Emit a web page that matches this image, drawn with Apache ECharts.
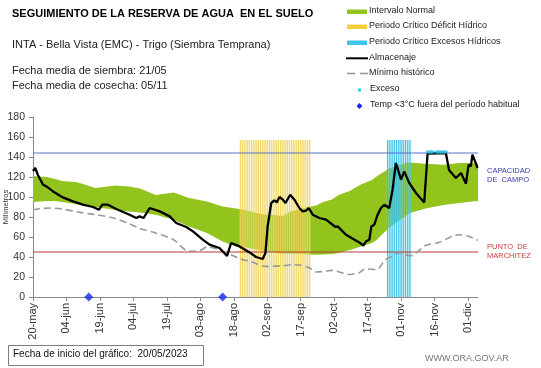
<!DOCTYPE html>
<html><head><meta charset="utf-8">
<script src="https://cdn.jsdelivr.net/npm/echarts/dist/echarts.min.js"></script>
<style>html,body{margin:0;padding:0;background:#fff}#c{width:541px;height:368px}</style>
</head><body><div id="c"></div>
<script>
// x values are days since 20-may-2023
const tickLabels = ['20-may','04-jun','19-jun','04-jul','19-jul','03-ago','18-ago','02-sep','17-sep','02-oct','17-oct','01-nov','16-nov','01-dic'];

const bandDays = [0, 6, 10, 13, 19, 21, 28, 37, 43, 48, 55, 63, 70, 78, 85, 91, 97, 100, 104, 108, 112, 115, 119, 123, 127, 130, 134, 137, 142, 145, 147, 152, 154, 160, 162, 167, 169, 176, 184, 191, 197, 199.5];
const bandLow  = [95, 96, 96, 95, 93, 92, 90, 87, 85.6, 84.6, 82.3, 77.3, 70.6, 64, 55.6, 50.6, 49, 47.5, 45.6, 44.5, 43.3, 43.3, 43.3, 42.5, 42.3, 42.5, 43, 44, 47, 49, 50.5, 54, 57, 70, 73, 81, 84, 88.5, 92, 94, 95.5, 96];
const bandHigh = [121, 120, 118, 116, 115, 114, 109, 111.5, 110.6, 108.5, 102, 104.6, 99, 95.6, 90.6, 88.5, 86, 84, 82.3, 82, 81, 85, 87.5, 90, 91.5, 95, 97.5, 102, 106, 110, 112.5, 117, 120.6, 129, 130, 134, 134.6, 133.3, 132.3, 134, 134, 133];

const minDays   = [0, 7.5, 13, 21, 28, 36, 43, 48, 55, 63, 70, 75, 78, 81, 87, 93, 97, 104.5, 112, 116.5, 119.5, 124, 127, 130, 134, 142, 146, 149, 154, 158, 161, 164, 169, 170, 176, 182, 191, 195.5, 199.5];
const minValues = [87.3, 89, 88, 84.6, 82.3, 79, 73.3, 68.5, 64, 57.3, 45.6, 46.6, 50, 49, 44, 38, 36, 30.6, 31.3, 32.3, 32, 29, 25, 25.6, 26.6, 22.5, 24, 28, 27.5, 37.3, 40.6, 44, 41.3, 41.5, 51.5, 54.6, 62.3, 60.5, 56.6];

const almDays   = [0, 1, 2.2, 4.5, 6, 9, 13.4, 17.9, 22.4, 26.9, 29.6, 31.1, 33.6, 37.3, 43.3, 46.3, 47.8, 49.6, 52.3, 56.8, 61.3, 64.2, 68.7, 71.7, 76.1, 79.1, 83.6, 87, 88.8, 92.6, 97.1, 100, 103, 104.2, 105.2, 106.8, 108.2, 109.3, 110.5, 112, 113.2, 115.3, 117.2, 119.4, 120.9, 122.4, 123.6, 125.4, 128.4, 131.4, 135.6, 136.6, 140.3, 146.3, 148.1, 149.3, 150.8, 151.7, 153, 154.5, 156, 157.5, 159.7, 161.2, 162.7, 165, 166.4, 168.7, 171.7, 175.4, 176.9, 185.1, 186.5, 189.6, 191.9, 194.1, 195.3, 196.3, 197, 198.2, 199.3];
const almValues = [126, 129, 122, 112.3, 110.6, 105.6, 99.6, 95.6, 92.3, 90, 87.3, 92.3, 92.3, 88, 82.3, 79, 80.6, 79, 89, 85.6, 80.6, 74, 70, 65.6, 57.3, 52.3, 49, 41, 54, 50.6, 44.6, 40, 38, 44, 70.6, 94, 96.6, 94.6, 100, 97.3, 94, 102.3, 97.3, 89, 85.6, 86.3, 89, 82.3, 79, 77.3, 70, 70.6, 62.3, 54.6, 51.3, 55.6, 57.3, 70.6, 72.3, 82.3, 89, 92.3, 89, 107.3, 134, 117.3, 125.6, 114, 104, 94.6, 143.5, 144, 127, 119, 124, 113.3, 132.3, 130.6, 142.3, 135.6, 129];

const deficitDays = [93, 94, 95, 96, 97, 98, 99, 100, 101, 102, 103, 104, 105, 106, 107, 108, 109, 110, 111, 112, 113, 114, 115, 116, 117, 118, 119, 120, 121, 122, 123, 124];
const excessPeriodDays = [159, 160, 161, 162, 163, 164, 165, 166, 167, 168, 169];
const periodTop = 157;

const excesoDays = [177, 178, 179, 181, 182, 183, 184, 185];
const excesoValue = 145;
const frostDays = [25, 85];
const frostValue = 0;

const capacidadCampo = 144;
const puntoMarchitez = 45;

const FONT = 'Arial, "Liberation Sans", sans-serif';
const chart = echarts.init(document.getElementById('c'), null, {renderer: 'canvas'});
const xMax = 199.5;

function stripeRender(color, bg) {
  return function (params, api) {
    const d = api.value(0), top = api.value(1);
    const p0 = api.coord([d - 0.5, top]);
    const p1 = api.coord([d + 0.5, 0]);
    const w = p1[0] - p0[0];
    const c = api.coord([d, 0])[0];
    return {type: 'group', children: [
      {type: 'rect', shape: {x: p0[0], y: p0[1], width: w, height: p1[1] - p0[1]}, style: {fill: bg}},
      {type: 'rect', shape: {x: c - 0.6, y: p0[1], width: 1.2, height: p1[1] - p0[1]}, style: {fill: color}}
    ]};
  };
}

chart.setOption({
  animation: false,
  backgroundColor: '#fff',
  grid: {left: 33, right: 63, top: 117, bottom: 71, containLabel: false, outerBoundsMode: 'none'},
  xAxis: {
    type: 'value', min: 0, max: xMax, interval: 15,
    axisLine: {lineStyle: {color: '#888'}},
    axisTick: {show: true, lineStyle: {color: '#888'}, length: 4},
    axisLabel: {
      rotate: 90, color: '#333', fontFamily: FONT, fontSize: 11, margin: 6, showMaxLabel: false,
      formatter: v => (Math.abs(v % 15) < 1e-6 && v / 15 < tickLabels.length) ? tickLabels[Math.round(v / 15)] : ''
    },
    splitLine: {show: false}
  },
  yAxis: {
    type: 'value', min: 0, max: 180, interval: 20,
    axisLine: {show: true, lineStyle: {color: '#888'}},
    axisTick: {show: true, lineStyle: {color: '#888'}, length: 4},
    axisLabel: {color: '#333', fontFamily: FONT, fontSize: 10.5, margin: 8},
    splitLine: {show: false}
  },
  series: [
    {
      type: 'custom', name: 'Intervalo Normal', z: 1,
      data: [[0, 0]],
      renderItem: function (params, api) {
        const pts = [];
        for (let i = 0; i < bandDays.length; i++) pts.push(api.coord([bandDays[i], bandHigh[i]]));
        for (let i = bandDays.length - 1; i >= 0; i--) pts.push(api.coord([bandDays[i], bandLow[i]]));
        return {type: 'polygon', shape: {points: pts}, style: {fill: '#93c31d'}};
      }
    },
    {
      type: 'custom', name: 'Periodo Crítico Déficit Hídrico', z: 2,
      data: deficitDays.map(d => [d, periodTop]),
      renderItem: stripeRender('rgba(236,208,80,0.85)', 'rgba(248,232,150,0.35)')
    },
    {
      type: 'custom', name: 'Periodo Crítico Excesos Hídricos', z: 2,
      data: excessPeriodDays.map(d => [d, periodTop]),
      renderItem: stripeRender('rgba(50,190,228,0.9)', 'rgba(140,220,240,0.35)')
    },
    {
      type: 'line', name: 'Capacidad de campo', z: 3, showSymbol: false, silent: true,
      data: [[0, capacidadCampo], [xMax, capacidadCampo]],
      lineStyle: {color: '#5873c4', width: 1}
    },
    {
      type: 'line', name: 'Punto de marchitez', z: 3, showSymbol: false, silent: true,
      data: [[0, puntoMarchitez], [xMax, puntoMarchitez]],
      lineStyle: {color: '#b83a3a', width: 1}
    },
    {
      type: 'line', name: 'Mínimo histórico', z: 4, showSymbol: false, smooth: 0.3,
      data: minDays.map((d, i) => [d, minValues[i]]),
      lineStyle: {color: '#999', width: 1.6, type: [7, 4]}
    },
    {
      type: 'line', name: 'Almacenaje', z: 5, showSymbol: false,
      data: almDays.map((d, i) => [d, almValues[i]]),
      lineStyle: {color: '#000', width: 2.3}
    },
    {
      type: 'scatter', name: 'Exceso', z: 6, symbol: 'rect', symbolSize: [4, 3],
      data: excesoDays.map(d => [d, excesoValue]),
      itemStyle: {color: '#2fc3e8'}
    },
    {
      type: 'scatter', name: 'Temp <3°C fuera del período habitual', z: 6, symbol: 'diamond', symbolSize: 9, clip: false,
      data: frostDays.map(d => [d, frostValue]),
      itemStyle: {color: '#1428f0'}
    }
  ],
  graphic: [
    {type: 'text', left: 12, top: 8, style: {text: 'SEGUIMIENTO DE LA RESERVA DE AGUA  EN EL SUELO', font: 'bold 11px ' + FONT, fill: '#000'}},
    {type: 'text', left: 12, top: 39, style: {text: 'INTA - Bella Vista (EMC) - Trigo (Siembra Temprana)', font: '11px ' + FONT, fill: '#222'}},
    {type: 'text', left: 12, top: 65, style: {text: 'Fecha media de siembra: 21/05', font: '11px ' + FONT, fill: '#222'}},
    {type: 'text', left: 12, top: 80, style: {text: 'Fecha media de cosecha: 05/11', font: '11px ' + FONT, fill: '#222'}},

    {type: 'text', x: 6, y: 207, rotation: Math.PI / 2, style: {text: 'Milímetros', font: '7.5px ' + FONT, fill: '#333', align: 'center', verticalAlign: 'middle'}},

    {type: 'rect', shape: {x: 347, y: 9.5, width: 20, height: 4.5}, style: {fill: '#93c31d'}},
    {type: 'text', left: 369, top: 6.5, style: {text: 'Intervalo Normal', font: '9px ' + FONT, fill: '#222'}},
    {type: 'rect', shape: {x: 347, y: 24.5, width: 20, height: 4.5}, style: {fill: '#f2cf3a'}},
    {type: 'text', left: 369, top: 21.5, style: {text: 'Periodo Crítico Déficit Hídrico', font: '9px ' + FONT, fill: '#222'}},
    {type: 'rect', shape: {x: 347, y: 40.5, width: 20, height: 4.5}, style: {fill: '#3cc6ea'}},
    {type: 'text', left: 369, top: 37.5, style: {text: 'Periodo Crítico Excesos Hídricos', font: '9px ' + FONT, fill: '#222'}},
    {type: 'line', shape: {x1: 346, y1: 58.3, x2: 368, y2: 58.3}, style: {stroke: '#000', lineWidth: 2}},
    {type: 'text', left: 369, top: 53, style: {text: 'Almacenaje', font: '9px ' + FONT, fill: '#222'}},
    {type: 'line', shape: {x1: 347, y1: 73.5, x2: 355, y2: 73.5}, style: {stroke: '#999', lineWidth: 1.6}},
    {type: 'line', shape: {x1: 360, y1: 73.5, x2: 368, y2: 73.5}, style: {stroke: '#999', lineWidth: 1.6}},
    {type: 'text', left: 369, top: 68, style: {text: 'Mínimo histórico', font: '9px ' + FONT, fill: '#222'}},
    {type: 'rect', shape: {x: 358, y: 88.5, width: 3, height: 3}, style: {fill: '#2fc3e8'}},
    {type: 'text', left: 370, top: 84.5, style: {text: 'Exceso', font: '9px ' + FONT, fill: '#222'}},
    {type: 'polygon', shape: {points: [[359.5, 103], [362.5, 106], [359.5, 109], [356.5, 106]]}, style: {fill: '#1428f0'}},
    {type: 'text', left: 370, top: 100.5, style: {text: 'Temp <3°C fuera del período habitual', font: '9px ' + FONT, fill: '#222'}},

    {type: 'text', left: 487, top: 166, style: {text: 'CAPACIDAD\nDE  CAMPO', font: '7.5px ' + FONT, fill: '#3a3ab0', lineHeight: 9}},
    {type: 'text', left: 487, top: 242, style: {text: 'PUNTO  DE\nMARCHITEZ', font: '7.5px ' + FONT, fill: '#c83c3c', lineHeight: 9}},

    {type: 'rect', shape: {x: 8.5, y: 345.5, width: 195, height: 20}, style: {fill: '#fff', stroke: '#8a7a7a', lineWidth: 1}},
    {type: 'text', left: 13, top: 349.5, style: {text: 'Fecha de inicio del gráfico:  20/05/2023', font: '10px ' + FONT, fill: '#111'}},
    {type: 'text', left: 425, top: 354, style: {text: 'WWW.ORA.GOV.AR', font: '9px ' + FONT, fill: '#777'}}
  ]
});
</script>
</body></html>
